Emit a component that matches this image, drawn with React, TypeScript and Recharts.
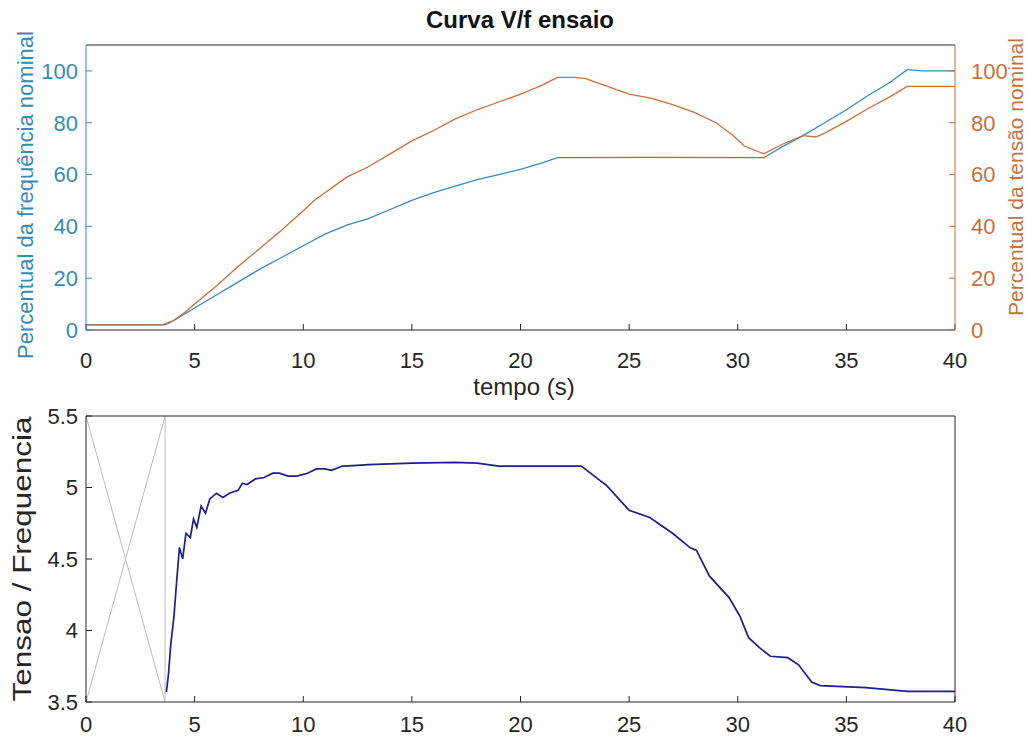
import React from 'react';
import { LineChart, Line, XAxis, YAxis } from 'recharts';

const FONT = '"Liberation Sans", Arial, Helvetica, sans-serif';
const TEAL = '#3A8BB2';
const ORANGE = '#C8703C';
const DARK = '#262626';
const NAVY = '#1E1E8C';
const GREY = '#BDBDBD';

// Top panel: percent of nominal frequency (left axis)
const freqTime = [0, 3.6, 3.8, 4.2, 5, 6, 7, 8, 9, 10, 11, 12, 13, 14, 15, 16, 17, 18, 19, 20, 21, 21.7, 22, 26, 31.2, 32, 33, 34, 35, 36, 37, 37.8, 38.5, 40];
const freqValues = [2, 2, 2.5, 4.5, 8.5, 13.5, 18.5, 23.5, 28, 32.5, 37, 40.5, 43, 46.5, 50, 53, 55.5, 58, 60, 62, 64.5, 66.5, 66.5, 66.6, 66.5, 70.5, 75, 80, 85, 90.5, 95.5, 100.5, 100, 100];

// Top panel: percent of nominal voltage (right axis)
const voltTime = [0, 3.5, 4, 4.5, 5, 6, 7, 8, 9, 10, 10.5, 11, 12, 13, 14, 15, 16, 17, 18, 19, 20, 21, 21.7, 22.5, 23, 24, 25, 26, 27, 28, 29, 29.8, 30.3, 31.2, 32, 33, 33.6, 34, 35, 36, 37, 37.8, 40];
const voltValues = [2, 2, 3.5, 6.5, 10, 17, 24.5, 31.5, 38.5, 46, 50, 53, 59, 63, 68, 73, 77, 81.5, 85, 88, 91, 94.5, 97.5, 97.5, 97, 94, 91, 89.5, 87, 84, 80, 75, 71, 68, 71.5, 75, 74.5, 76, 80.5, 85.5, 90, 94, 94];

// Bottom panel: voltage / frequency ratio
const ratioTime = [3.7, 3.8, 3.9, 4.05, 4.15, 4.3, 4.45, 4.6, 4.8, 4.95, 5.1, 5.3, 5.5, 5.7, 6, 6.3, 6.6, 7, 7.2, 7.4, 7.8, 8.2, 8.6, 8.9, 9.3, 9.7, 10.2, 10.6, 11, 11.3, 11.8, 12.5, 13, 15, 17, 18, 19, 20, 22.8, 23.65, 23.95, 25, 25.95, 27, 27.8, 28.1, 28.7, 29.6, 30.1, 30.5, 31, 31.5, 32.3, 32.8, 33.4, 33.8, 35.9, 37.8, 40];
const ratioValues = [3.57, 3.7, 3.9, 4.1, 4.3, 4.58, 4.5, 4.68, 4.65, 4.78, 4.72, 4.87, 4.82, 4.92, 4.96, 4.93, 4.96, 4.98, 5.03, 5.02, 5.06, 5.07, 5.1, 5.1, 5.08, 5.08, 5.1, 5.13, 5.13, 5.12, 5.15, 5.155, 5.16, 5.17, 5.175, 5.17, 5.15, 5.15, 5.15, 5.05, 5.016, 4.84, 4.79, 4.68, 4.58, 4.56, 4.38, 4.23, 4.1, 3.95, 3.88, 3.82, 3.81, 3.76, 3.64, 3.615, 3.6, 3.575, 3.575];

// Bottom panel: out-of-range artefact (grey)
const artefactTime = [0, 3.64, 3.64, 0];
const artefactValues = [5.5, 3.5, 5.5, 3.5];

const xTicks = [0, 5, 10, 15, 20, 25, 30, 35, 40];
const pctTicks = [0, 20, 40, 60, 80, 100];
const ratioTicks = [3.5, 4, 4.5, 5, 5.5];

const zip = (ts: number[], vs: number[]) => ts.map((t, i) => ({ t, v: vs[i] }));
const freqData = zip(freqTime, freqValues);
const voltData = zip(voltTime, voltValues);
const ratioData = zip(ratioTime, ratioValues);
const artefactData = zip(artefactTime, artefactValues);

const tickFont = (fill: string) => ({ fill, fontSize: 22, fontFamily: FONT });

const rotLabel = (text: string, x: number, y: number, fill: string, size: number, len?: number) => () => (
  <text
    x={x}
    y={y}
    transform={`rotate(-90 ${x} ${y})`}
    textAnchor="middle"
    dominantBaseline="central"
    fill={fill}
    fontSize={size}
    fontFamily={FONT}
    {...(len ? { textLength: len, lengthAdjust: 'spacingAndGlyphs' } : {})}
  >
    {text}
  </text>
);

const tempoLabel = () => (
  <text x={524} y={395} textAnchor="middle" fill={DARK} fontSize={24} fontFamily={FONT}>
    tempo (s)
  </text>
);

export default function App() {
  return (
    <div style={{ position: 'absolute', left: 0, top: 0, width: 1029, height: 740, background: '#fff', fontFamily: FONT }}>
      <div style={{ position: 'absolute', left: 0, top: 6, width: 1040, textAlign: 'center', fontSize: 24, fontWeight: 'bold', color: '#111', fontFamily: FONT }}>
        Curva V/f ensaio
      </div>
      <div style={{ position: 'absolute', left: 0, top: 0 }}>
        <LineChart width={1029} height={400} margin={{ top: 44, right: 0, bottom: 0, left: 0 }}>
          <XAxis
            xAxisId="b"
            dataKey="t"
            type="number"
            domain={[0, 40]}
            ticks={xTicks}
            interval={0}
            height={70}
            tickSize={-6}
            tickMargin={28}
            tick={tickFont(DARK)}
            stroke={DARK}
            label={tempoLabel}
          />
          <XAxis
            xAxisId="top"
            dataKey="t"
            type="number"
            orientation="top"
            domain={[0, 40]}
            ticks={xTicks}
            interval={0}
            height={1}
            tickSize={-6}
            tickFormatter={() => ''}
            stroke={DARK}
          />
          <YAxis
            yAxisId="l"
            type="number"
            domain={[0, 110]}
            ticks={pctTicks}
            interval={0}
            width={86}
            tickSize={-6}
            tickMargin={14}
            tick={tickFont(TEAL)}
            stroke={TEAL}
            label={rotLabel('Percentual da frequência nominal', 25, 195, TEAL, 22)}
          />
          <YAxis
            yAxisId="r"
            type="number"
            orientation="right"
            domain={[0, 110]}
            ticks={pctTicks}
            interval={0}
            width={74}
            tickSize={-6}
            tickMargin={22}
            tick={tickFont(ORANGE)}
            stroke={ORANGE}
            label={rotLabel('Percentual da tensão nominal', 1015, 177, ORANGE, 21)}
          />
          <Line
            xAxisId="b"
            yAxisId="l"
            data={freqData}
            dataKey="v"
            type="linear"
            stroke={TEAL}
            strokeWidth={1.3}
            dot={false}
            isAnimationActive={false}
          />
          <Line
            xAxisId="b"
            yAxisId="r"
            data={voltData}
            dataKey="v"
            type="linear"
            stroke={ORANGE}
            strokeWidth={1.3}
            dot={false}
            isAnimationActive={false}
          />
        </LineChart>
      </div>
      <div style={{ position: 'absolute', left: 0, top: 400 }}>
        <LineChart width={1029} height={340} margin={{ top: 15, right: 0, bottom: 0, left: 0 }}>
          <XAxis
            xAxisId="b"
            dataKey="t"
            type="number"
            domain={[0, 40]}
            ticks={xTicks}
            interval={0}
            height={38}
            tickSize={-6}
            tickMargin={20}
            tick={tickFont(DARK)}
            stroke={DARK}
          />
          <XAxis
            xAxisId="top"
            dataKey="t"
            type="number"
            orientation="top"
            domain={[0, 40]}
            ticks={xTicks}
            interval={0}
            height={1}
            tickSize={-6}
            tickFormatter={() => ''}
            stroke={DARK}
          />
          <YAxis
            yAxisId="l"
            type="number"
            domain={[3.5, 5.5]}
            ticks={ratioTicks}
            interval={0}
            width={86}
            tickSize={-6}
            tickMargin={14}
            tick={tickFont(DARK)}
            stroke={DARK}
            label={rotLabel('Tensao / Frequencia', 22, 159, DARK, 26, 285)}
          />
          <YAxis
            yAxisId="r"
            type="number"
            orientation="right"
            domain={[3.5, 5.5]}
            ticks={ratioTicks}
            interval={0}
            width={74}
            tickSize={-6}
            tickFormatter={() => ''}
            stroke={DARK}
          />
          <Line
            xAxisId="b"
            yAxisId="l"
            data={artefactData}
            dataKey="v"
            type="linear"
            stroke={GREY}
            strokeWidth={1}
            dot={false}
            isAnimationActive={false}
          />
          <Line
            xAxisId="b"
            yAxisId="l"
            data={ratioData}
            dataKey="v"
            type="linear"
            stroke={NAVY}
            strokeWidth={1.7}
            dot={false}
            isAnimationActive={false}
          />
        </LineChart>
      </div>
    </div>
  );
}
